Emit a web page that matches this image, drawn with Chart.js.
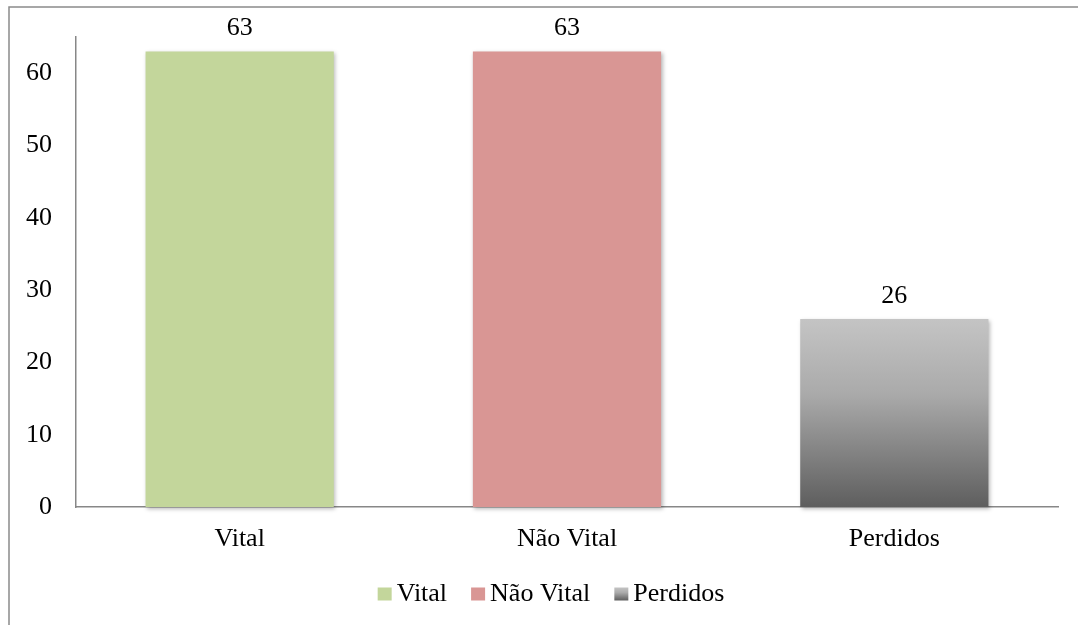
<!DOCTYPE html>
<html>
<head>
<meta charset="utf-8">
<script src="https://cdn.jsdelivr.net/npm/chart.js@4.4.1/dist/chart.umd.min.js"></script>
<style>
  html, body { margin: 0; padding: 0; background: #fff; }
  #wrap { width: 1078px; height: 625px; }
</style>
</head>
<body>
<div id="wrap"><canvas id="barChart" width="1078" height="625"></canvas></div>
<script>
// categories and counts
const categories = ['Vital', 'Não Vital', 'Perdidos'];
const counts = [63, 63, 26];
const yTicks = [0, 10, 20, 30, 40, 50, 60];
const yMax = 65;

const serif = "'Liberation Serif', 'Times New Roman', serif";
const fontSize = 26;
const axisGray = '#878787';

function greyGradient(ctx, top, bottom) {
    const g = ctx.createLinearGradient(0, top, 0, bottom);
    g.addColorStop(0, '#c4c4c4');
    g.addColorStop(0.4, '#aaaaaa');
    g.addColorStop(1, '#5e5e5e');
    return g;
}

function barFill(context) {
    const i = context.dataIndex;
    if (i === 0) return '#c3d69b';
    if (i === 1) return '#d99694';
    const chart = context.chart;
    if (!chart.chartArea || !chart.scales.y) return '#999999';
    const y = chart.scales.y;
    return greyGradient(chart.ctx, y.getPixelForValue(counts[i]), y.getPixelForValue(0));
}

// outer frame
const framePlugin = {
    id: 'frame',
    beforeDraw(chart) {
        const ctx = chart.ctx;
        ctx.save();
        ctx.strokeStyle = '#8a8a8a';
        ctx.lineWidth = 1.5;
        ctx.strokeRect(9, 7, 1200, 800);
        ctx.restore();
    }
};

// soft shadow behind the bars
const shadowPlugin = {
    id: 'barShadow',
    beforeDatasetsDraw(chart) {
        const ctx = chart.ctx;
        ctx.save();
        ctx.shadowColor = 'rgba(0,0,0,0.28)';
        ctx.shadowBlur = 4;
        ctx.shadowOffsetX = 1.5;
        ctx.shadowOffsetY = 1.5;
    },
    afterDatasetsDraw(chart) {
        chart.ctx.restore();
    }
};

// value labels and legend
const labelPlugin = {
    id: 'valueLabels',
    afterDraw(chart) {
        const ctx = chart.ctx;
        const meta = chart.getDatasetMeta(0);
        ctx.save();
        ctx.font = fontSize + 'px ' + serif;
        ctx.fillStyle = '#000';
        ctx.textAlign = 'center';
        ctx.textBaseline = 'middle';
        meta.data.forEach((bar, i) => {
            ctx.fillText(String(counts[i]), bar.x, bar.y - 23);
        });

        // legend row
        const boxW = 14, boxH = 13, gap = 5, itemGap = 24, cy = 594;
        const widths = categories.map(c => ctx.measureText(c).width);
        const total = widths.reduce((a, w) => a + boxW + gap + w, 0) + itemGap * (categories.length - 1);
        let x = 551 - total / 2;
        ctx.textAlign = 'left';
        categories.forEach((c, i) => {
            const top = cy - boxH / 2;
            if (i === 2) ctx.fillStyle = greyGradient(ctx, top, top + boxH);
            else ctx.fillStyle = i === 0 ? '#c3d69b' : '#d99694';
            ctx.fillRect(x, top, boxW, boxH);
            ctx.fillStyle = '#000';
            ctx.fillText(c, x + boxW + gap, cy);
            x += boxW + gap + widths[i] + itemGap;
        });
        ctx.restore();
    }
};

new Chart(document.getElementById('barChart'), {
    type: 'bar',
    data: {
        labels: categories,
        datasets: [{
            data: counts,
            backgroundColor: barFill,
            borderWidth: 0,
            barPercentage: 0.575,
            categoryPercentage: 1.0,
            clip: false
        }]
    },
    options: {
        responsive: false,
        animation: false,
        layout: { padding: { top: 37, right: 20, left: 0, bottom: 0 } },
        plugins: {
            legend: { display: false },
            tooltip: { enabled: false }
        },
        scales: {
            x: {
                grid: { display: false, drawTicks: false },
                border: { color: axisGray, width: 1.5 },
                ticks: { color: '#000', font: { family: serif, size: fontSize }, padding: 17 },
                afterFit(scale) { scale.height = 118; }
            },
            y: {
                min: 0,
                max: yMax,
                grid: { display: false, drawTicks: false },
                border: { color: axisGray, width: 1.5 },
                ticks: { color: '#000', font: { family: serif, size: fontSize }, padding: 24 },
                afterBuildTicks(scale) { scale.ticks = yTicks.map(v => ({ value: v })); },
                afterFit(scale) {
                    scale.width = 76;
                    scale.paddingTop = 0;
                    scale.paddingBottom = 0;
                }
            }
        }
    },
    plugins: [framePlugin, shadowPlugin, labelPlugin]
});
</script>
</body>
</html>
